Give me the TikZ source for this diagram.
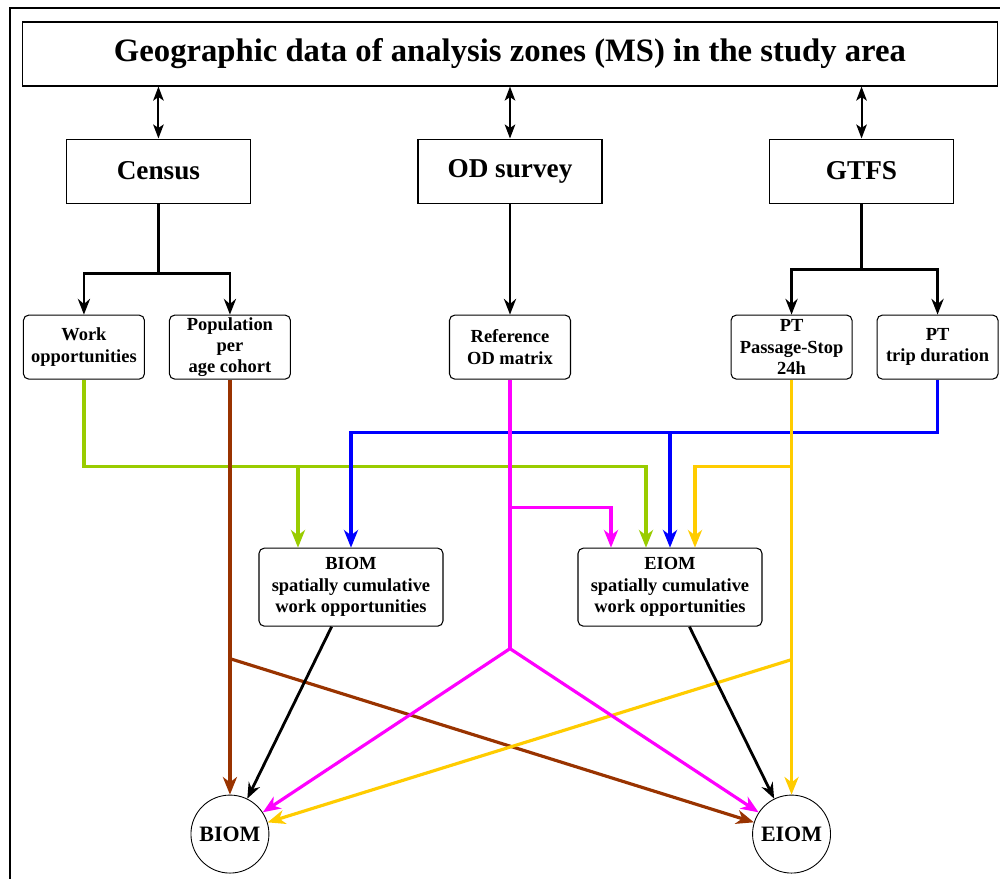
\documentclass[tikz,border=0pt]{standalone}
\usepackage{fontspec}
\setmainfont{Liberation Serif}
\usetikzlibrary{arrows.meta,positioning}
\definecolor{oppgreen}{RGB}{153,204,0}
\definecolor{popbrown}{RGB}{153,51,0}
\definecolor{ptyellow}{RGB}{255,204,0}
\definecolor{odmagenta}{RGB}{255,0,255}
\definecolor{durblue}{RGB}{0,0,255}

\begin{document}
\begin{tikzpicture}[node distance=1.04cm,
    srcbox/.style={draw, line width=0.6pt, minimum width=3.68cm, minimum height=1.28cm, font=\fontsize{15.5}{18}\selectfont\bfseries},
    databox/.style={draw, line width=0.6pt, rounded corners=3pt, minimum width=2.42cm, minimum height=1.28cm, inner sep=1pt, align=center, font=\fontsize{10.5}{12.2}\selectfont\bfseries},
    modelbox/.style={databox, minimum width=3.68cm, minimum height=1.56cm},
    resultnode/.style={draw, circle, line width=0.5pt, minimum size=1.56cm, inner sep=0pt, font=\fontsize{12.5}{14}\selectfont\bfseries},
    flow/.style={line width=1.8pt, -{Stealth[length=10pt,width=8pt,inset=3pt]}},
    tree/.style={line width=1.3pt, -{Stealth[length=9pt,width=7pt,inset=3pt]}}]
    \useasboundingbox (-10.2,-16.5) rectangle (9.8,1.08);
    % Frame
    \draw[line width=1.1pt] (-10,-16.5) -- (-10,0.92) -- (9.8,0.92);

    % Study area
    \node[draw, line width=0.6pt, minimum width=19.5cm, minimum height=1.28cm, font=\fontsize{18.6}{21}\selectfont\bfseries] (area) at (0,0) {Geographic data of analysis zones (MS) in the study area};

    % Data sources
    \node[srcbox, below=of area] (od) {OD survey};
    \node[srcbox, left=3.33cm of od] (census) {Census};
    \node[srcbox, right=3.33cm of od] (gtfs) {GTFS};

    % Processed data
    \node[databox, below=2.22cm of census, xshift=-1.49cm] (work) {Work\\opportunities};
    \node[databox, below=2.22cm of census, xshift=1.43cm] (pop) {Population\\per\\age cohort};
    \node[databox, below=2.22cm of od] (refod) {Reference\\OD matrix};
    \node[databox, below=2.22cm of gtfs, xshift=-1.4cm] (ptstop) {PT\\Passage-Stop\\24h};
    \node[databox, below=2.22cm of gtfs, xshift=1.52cm] (ptdur) {PT\\trip duration};

    % Models
    \node[modelbox, below=3.36cm of refod, xshift=-3.18cm] (biom) {BIOM\\spatially cumulative\\work opportunities};
    \node[modelbox, below=3.36cm of refod, xshift=3.2cm] (eiom) {EIOM\\spatially cumulative\\work opportunities};

    % Results
    \node[resultnode, below=8.3cm of pop] (biomc) {BIOM};
    \node[resultnode, below=8.3cm of ptstop] (eiomc) {EIOM};

    % Links to the study area
    \foreach \src in {census,od,gtfs}
        \draw[line width=1.1pt, {Stealth[length=8pt,width=6pt,inset=2pt]}-{Stealth[length=8pt,width=6pt,inset=2pt]}] (area.south -| \src) -- (\src);

    % Sources to data
    \draw[tree] (census.south) -- ++(0,-1.4) coordinate (ctee) -| (work.north);
    \draw[tree] (ctee) -| (pop.north);
    \draw[tree] (od) -- (refod);
    \draw[tree] (gtfs.south) -- ++(0,-1.32) coordinate (gtee) -| (ptstop.north);
    \draw[tree] (gtee) -| (ptdur.north);

    % Work opportunities
    \coordinate (biomg) at ([xshift=-1.06cm]biom.north);
    \coordinate (eiomg) at ([xshift=-0.48cm]eiom.north);
    \draw[flow, oppgreen] (work.south) -- ++(0,-1.74) coordinate (gbus) -| (eiomg);
    \draw[flow, oppgreen] (gbus -| biomg) -- (biomg);

    % Trip duration
    \draw[flow, durblue] (ptdur.south) -- ++(0,-1.06) coordinate (bbus) -| (biom.north);
    \draw[flow, durblue] (bbus -| eiom.north) -- (eiom.north);

    % Population
    \path (pop.south) ++(0,-5.58) coordinate (bfork);
    \draw[flow, popbrown] (pop.south) -- (biomc.north);
    \draw[flow, popbrown] (bfork) -- (eiomc);

    % Passage-stop
    \coordinate (eiomy) at ([xshift=0.5cm]eiom.north);
    \path (ptstop.south) ++(0,-1.74) coordinate (ybus) ++(0,-3.86) coordinate (ycross);
    \draw[flow, ptyellow] (ptstop.south) -- (eiomc.north);
    \draw[flow, ptyellow] (ybus) -| (eiomy);
    \draw[flow, ptyellow] (ycross) -- (biomc);

    % Reference OD matrix
    \coordinate (eiomm) at ([xshift=-1.18cm]eiom.north);
    \path (refod.south) ++(0,-2.56) coordinate (mbus);
    \draw[line width=1.8pt, odmagenta] (refod.south) -- ++(0,-5.38) coordinate (mfork);
    \draw[flow, odmagenta] (mbus) -| (eiomm);
    \draw[flow, odmagenta] (mfork) -- (biomc);
    \draw[flow, odmagenta] (mfork) -- (eiomc);

    % Models to results
    \draw[tree, line width=1.6pt] (biom) -- (biomc);
    \draw[tree, line width=1.6pt] (eiom) -- (eiomc);
\end{tikzpicture}
\end{document}
